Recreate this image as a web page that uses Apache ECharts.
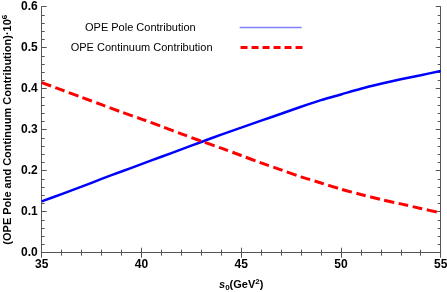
<!DOCTYPE html>
<html><head><meta charset="utf-8">
<script src="https://cdn.jsdelivr.net/npm/echarts@6/dist/echarts.min.js"></script>
<style>html,body{margin:0;padding:0;background:#fff}#c{width:447px;height:292px}</style>
</head><body><div id="c"></div>
<script>
const s0 = [35, 36, 37, 38, 39, 40, 41, 42, 43, 44, 45, 46, 47, 48, 49, 50, 51, 52, 53, 54, 55];
const polePart = [0.125, 0.143, 0.161, 0.180, 0.198, 0.216, 0.234, 0.252, 0.270, 0.288, 0.305,
                  0.322, 0.339, 0.356, 0.372, 0.386, 0.400, 0.412, 0.423, 0.433, 0.443];
const contPart = [0.415, 0.397, 0.379, 0.361, 0.343, 0.326, 0.308, 0.290, 0.272, 0.255, 0.237,
                  0.219, 0.202, 0.185, 0.170, 0.155, 0.142, 0.130, 0.119, 0.108, 0.097];
const seriesNames = ['OPE Pole Contribution', 'OPE Continuum Contribution'];

const F = '"Liberation Sans", Arial, sans-serif';
const axisCol = '#555';
const tickCommon = {
  axisLine: {show: true, lineStyle: {color: axisCol, width: 1}},
  axisTick: {show: true, inside: true, length: 5, lineStyle: {color: axisCol}},
  minorTick: {show: true, splitNumber: 5, length: 3, lineStyle: {color: axisCol}},
  splitLine: {show: false}
};
const labelStyle = {fontFamily: F, fontWeight: 'bold', fontSize: 12, color: '#000'};

const chart = echarts.init(document.getElementById('c'));
chart.setOption({
  animation: false,
  grid: {left: 41.7, right: 6.3, top: 6.7, bottom: 39.3, show: false,
         containLabel: false, outerBoundsMode: 'none'},
  legend: [
    {data: [seriesNames[0]], left: 80, top: 17, align: 'right', itemWidth: 62, itemHeight: 12,
     itemStyle: {opacity: 0},
     lineStyle: {color: '#7f7fff', width: 1.5, type: 'solid'},
     textStyle: {fontFamily: F, fontSize: 11, color: '#000', padding: [0, 39, 0, 0]}},
    {data: [seriesNames[1]], left: 65.7, top: 37, align: 'right', itemWidth: 62, itemHeight: 12,
     itemStyle: {opacity: 0},
     lineStyle: {color: '#ff0000', width: 3, type: [7, 4]},
     textStyle: {fontFamily: F, fontSize: 11, color: '#000', padding: [0, 23, 0, 0]}}
  ],
  xAxis: [
    Object.assign({type: 'value', min: 35, max: 55, interval: 5, position: 'bottom',
      axisLabel: Object.assign({margin: 6}, labelStyle),
      name: '{it|s}{sub|0}(GeV{sup|2})', nameLocation: 'middle', nameGap: 25, nameMoveOverlap: false,
      nameTextStyle: {fontFamily: F, fontWeight: 'bold', fontSize: 11, color: '#000',
        rich: {
          it: {fontFamily: F, fontWeight: 'bold', fontStyle: 'italic', fontSize: 11},
          sub: {fontFamily: F, fontWeight: 'bold', fontSize: 8, verticalAlign: 'bottom', padding: [6, 0, 0, 0]},
          sup: {fontFamily: F, fontWeight: 'bold', fontSize: 8, verticalAlign: 'top', padding: [0, 0, 6, 0]}
        }}}, tickCommon),
    Object.assign({type: 'value', min: 35, max: 55, interval: 5, position: 'top',
      axisLabel: {show: false}}, tickCommon)
  ],
  yAxis: [
    Object.assign({type: 'value', min: 0, max: 0.6, interval: 0.1, position: 'left',
      axisLabel: Object.assign({margin: 4, formatter: v => v.toFixed(1)}, labelStyle),
      name: '(OPE Pole and Continuum Contribution)·10{sup|6}', nameLocation: 'middle', nameGap: 27,
      nameMoveOverlap: false,
      nameTextStyle: {fontFamily: F, fontWeight: 'bold', fontSize: 11, color: '#000',
        rich: {sup: {fontFamily: F, fontWeight: 'bold', fontSize: 8, verticalAlign: 'top', padding: [0, 0, 6, 0]}}}
    }, tickCommon),
    Object.assign({type: 'value', min: 0, max: 0.6, interval: 0.1, position: 'right',
      axisLabel: {show: false}}, tickCommon)
  ],
  series: [
    {name: seriesNames[0], type: 'line', smooth: 0.3, symbol: 'none',
     data: s0.map((x, i) => [x, polePart[i]]),
     lineStyle: {color: '#0000ff', width: 2.5},
     itemStyle: {color: '#0000ff'}},
    {name: seriesNames[1], type: 'line', smooth: 0.3, symbol: 'none',
     data: s0.map((x, i) => [x, contPart[i]]),
     lineStyle: {color: '#ff0000', width: 3, type: [10, 4.5]},
     itemStyle: {color: '#ff0000'}}
  ]
});
</script></body></html>
